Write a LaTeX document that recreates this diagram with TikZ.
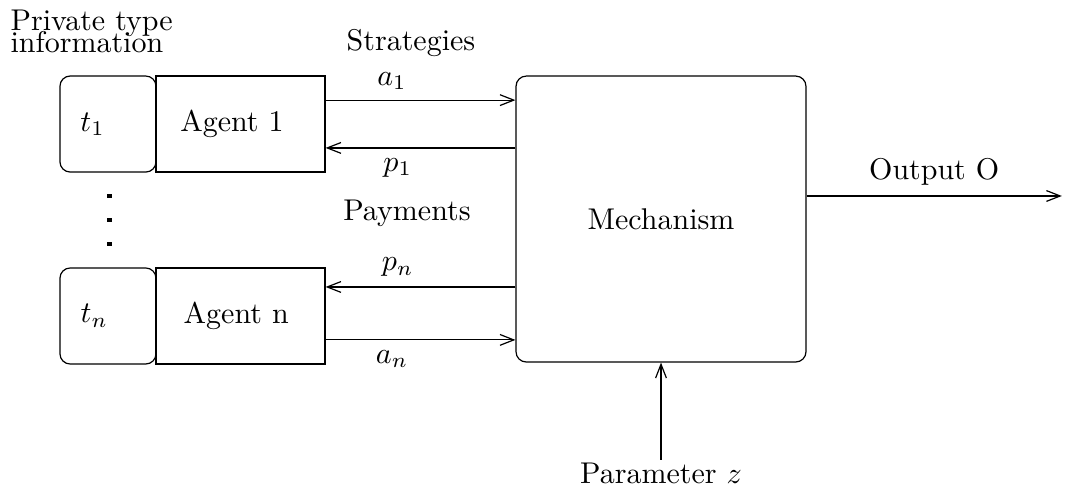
\documentclass[tikz,border=0pt]{standalone}
\usetikzlibrary{calc}
\usetikzlibrary{arrows.meta}

\begin{document}
\begin{tikzpicture}[
    >={Straight Barb[length=4.6pt, width=3.6pt]},
    typebox/.style={draw, rounded corners=0.12cm, minimum width=1.125cm, minimum height=1.125cm},
    agentbox/.style={draw, minimum width=1.98cm, minimum height=1.125cm},
    mechbox/.style={draw, rounded corners=0.12cm, minimum width=3.397cm, minimum height=3.35cm},
    dotmark/.style={fill=black}
]
\useasboundingbox (0,0) rectangle (12.477,5.729);

\node[inner sep=0, anchor=north west, align=left] (title) at (0.117,5.623) {Private type\\[-4.7pt]information};

\node[typebox, label={[xshift=-0.18cm]center:$t_1$}] (t1) at (1.265,4.276) {};
\node[agentbox, label={[xshift=-0.1cm]center:Agent 1}] (agent1) at (2.817,4.276) {};
\node[typebox, label={[xshift=-0.16cm]center:$t_n$}] (tn) at (1.265,2.027) {};
\node[agentbox, label={[xshift=-0.05cm]center:Agent n}] (agentn) at (2.817,2.027) {};

\node[mechbox] (mech) at (7.744,3.163) {Mechanism};

\node (strat) at (4.815,5.23) {Strategies};
\node (pay) at (4.768,3.233) {Payments};

% dots between the agents
\fill[dotmark] (1.258,3.408) rectangle (1.308,3.458);
\fill[dotmark] (1.258,3.126) rectangle (1.308,3.176);
\fill[dotmark] (1.258,2.845) rectangle (1.308,2.895);

\draw[->] ([yshift=0.28cm]agent1.east) -- ([yshift=0.28cm]agent1.east -| mech.west) node[above, pos=0.35] {$a_1$};
\draw[->] ([yshift=-0.28cm]agent1.east -| mech.west) -- ([yshift=-0.28cm]agent1.east) node[below, pos=0.62] {$p_1$};
\draw[->] ([yshift=0.34cm]agentn.east -| mech.west) -- ([yshift=0.34cm]agentn.east) node[above, pos=0.62] {$p_n$};
\draw[->] ([yshift=-0.28cm]agentn.east) -- ([yshift=-0.28cm]agentn.east -| mech.west) node[below, pos=0.35] {$a_n$};

\coordinate (out) at (12.44,3.433);
\draw[->] (mech.east |- out) -- (out) node[above, midway] {Output O};

\node[inner sep=0.7pt, anchor=north] (param) at (7.744,0.34) {Parameter $z$};
\draw[->] (param) -- (mech);
\end{tikzpicture}
\end{document}
